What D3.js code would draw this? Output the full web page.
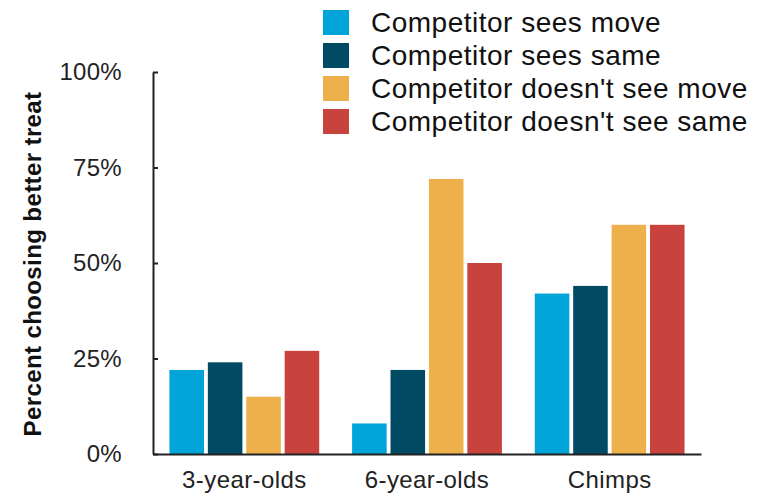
<!DOCTYPE html>
<html>
<head>
<meta charset="utf-8">
<script src="https://cdn.jsdelivr.net/npm/d3@7"></script>
<style>
  body { margin: 0; background: #fff; }
  svg { font-family: "Liberation Sans", Arial, Helvetica, sans-serif; }
</style>
</head>
<body>
<div id="chart"></div>
<script>
// categories and series
var groups = ["3-year-olds", "6-year-olds", "Chimps"];
var seriesNames = ["Competitor sees move", "Competitor sees same",
                   "Competitor doesn't see move", "Competitor doesn't see same"];
var seesMove = [22, 8, 42];
var seesSame = [24, 22, 44];
var notSeeMove = [15, 72, 60];
var notSeeSame = [27, 50, 60];
var yTicks = [0, 25, 50, 75, 100];

var colors = ["#00a4d8", "#004b63", "#edb04b", "#c8423e"];

var values = [seesMove, seesSame, notSeeMove, notSeeSame];

// rows for the grouped bars
var data = groups.map(function(g, i) {
    return { group: g, vals: values.map(function(s, k) { return { key: seriesNames[k], value: s[i] }; }) };
});

// set the dimensions and margins of the graph
var margin = {top: 72, right: 58, bottom: 39, left: 153},
    width = 759 - margin.left - margin.right,
    height = 493 - margin.top - margin.bottom;

var svg = d3.select("#chart")
    .append("svg")
    .attr("width", 759)
    .attr("height", 493);

var g = svg.append("g")
    .attr("transform", "translate(" + margin.left + "," + margin.top + ")");

// X scale
var x = d3.scaleBand()
    .domain(groups)
    .range([0, width])
    .paddingInner(0.18)
    .paddingOuter(0.09);

var xSub = d3.scaleBand()
    .domain(seriesNames)
    .range([0, x.bandwidth()])
    .paddingInner(0.1);

// Y scale
var y = d3.scaleLinear()
    .domain([0, 100])
    .range([height, 0]);

var color = d3.scaleOrdinal()
    .domain(seriesNames)
    .range(colors);

// bars
g.append("g")
    .selectAll("g")
    .data(data)
    .enter()
    .append("g")
    .attr("transform", function(d) { return "translate(" + x(d.group) + ",0)"; })
    .selectAll("rect")
    .data(function(d) { return d.vals; })
    .enter().append("rect")
    .attr("x", function(d) { return xSub(d.key); })
    .attr("y", function(d) { return y(d.value); })
    .attr("width", xSub.bandwidth())
    .attr("height", function(d) { return height - y(d.value); })
    .attr("fill", function(d) { return color(d.key); });

// Y axis
var yAxis = g.append("g")
    .call(d3.axisLeft(y)
        .tickValues(yTicks)
        .tickSizeInner(-5)
        .tickSizeOuter(0)
        .tickPadding(31)
        .tickFormat(function(d) { return d + "%"; }));
yAxis.select(".domain").attr("stroke", "#222").attr("stroke-width", 2);
yAxis.selectAll(".tick line").attr("stroke", "#222").attr("stroke-width", 2);
yAxis.selectAll(".tick text")
    .attr("fill", "#222")
    .style("font-size", "24px")
    .style("letter-spacing", "0.3px");

// X axis
var xAxis = g.append("g")
    .attr("transform", "translate(0," + height + ")")
    .call(d3.axisBottom(x).tickSize(0).tickPadding(17));
xAxis.select(".domain").attr("stroke", "#222").attr("stroke-width", 2);
xAxis.selectAll(".tick text")
    .attr("fill", "#222")
    .style("font-size", "24px")
    .style("letter-spacing", "0.4px");

// y axis label
svg.append("text")
    .attr("transform", "translate(41,264) rotate(-90)")
    .style("text-anchor", "middle")
    .style("font-size", "24px")
    .style("font-weight", "bold")
    .style("letter-spacing", "0.4px")
    .attr("fill", "#111")
    .text("Percent choosing better treat");

// legend
var legend = svg.append("g")
    .attr("transform", "translate(323,10)")
    .selectAll("g")
    .data(seriesNames)
    .enter().append("g")
    .attr("transform", function(d, i) { return "translate(0," + (i * 33) + ")"; });

legend.append("rect")
    .attr("width", 26)
    .attr("height", 25)
    .attr("fill", function(d) { return color(d); });

legend.append("text")
    .attr("x", 48)
    .attr("y", 12.5)
    .attr("dy", "0.35em")
    .style("font-size", "28px")
    .style("letter-spacing", "0.5px")
    .attr("fill", "#111")
    .text(function(d) { return d; });
</script>
</body>
</html>
